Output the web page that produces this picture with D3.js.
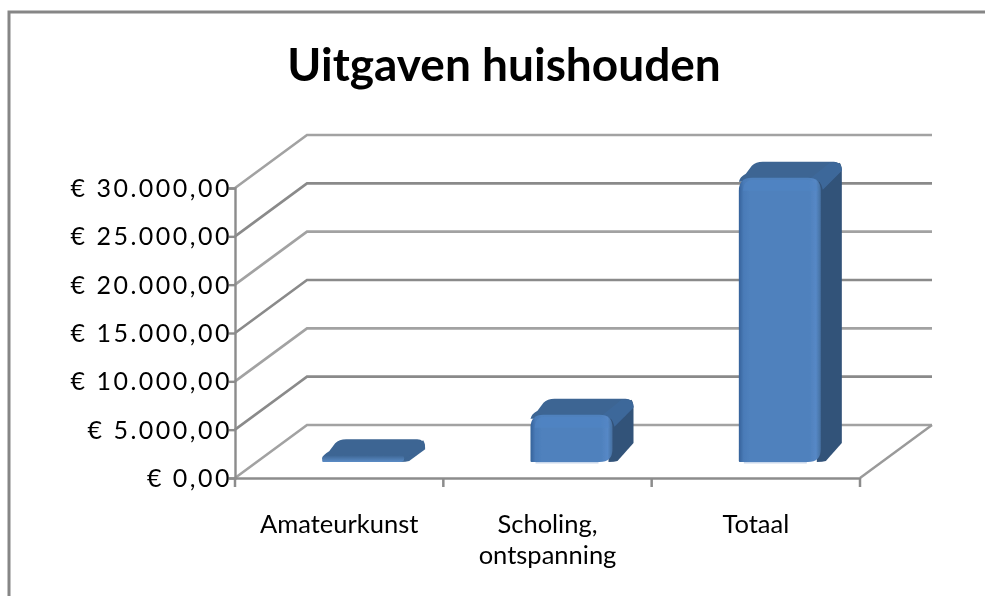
<!DOCTYPE html>
<html><head><meta charset="utf-8">
<script src="https://cdn.jsdelivr.net/npm/d3@7"></script>
<style>html,body{margin:0;padding:0;background:#fff;overflow:hidden}svg{display:block}
text{font-family:Lato,"Open Sans",sans-serif;fill:#000}</style></head>
<body><svg id="c" width="985" height="596"></svg>
<script>
const chartTitle = "Uitgaven huishouden";
const categories = ["Amateurkunst", "Scholing, ontspanning", "Totaal"];
const values = [700, 4900, 29400];
const tickValues = [0, 5000, 10000, 15000, 20000, 25000, 30000];
const tickLabels = ["€ 0,00", "€ 5.000,00", "€ 10.000,00", "€ 15.000,00", "€ 20.000,00", "€ 25.000,00", "€ 30.000,00"];

const svg = d3.select("#c");
const defs = svg.append("defs");
const soft = defs.append("filter").attr("id","soft").attr("filterUnits","userSpaceOnUse")
  .attr("x",0).attr("y",0).attr("width",985).attr("height",596);
soft.append("feGaussianBlur").attr("stdDeviation",0.6);
const fg = defs.append("linearGradient").attr("id","front");
[[0,"#35629a"],[0.06,"#4a7bb8"],[0.14,"#4f81bd"],[0.86,"#4f81bd"],[0.94,"#5688c6"],[1,"#456f9f"]]
  .forEach(s=>fg.append("stop").attr("offset",s[0]).attr("stop-color",s[1]));
const fgs = defs.append("linearGradient").attr("id","thin").attr("x1",0).attr("x2",0).attr("y1",0).attr("y2",1);
[[0,"#3c6593"],[1,"#5b8cc6"]].forEach(s=>fgs.append("stop").attr("offset",s[0]).attr("stop-color",s[1]));

// frame
svg.append("path").attr("d","M9,596V12H985").attr("fill","none").attr("stroke","#868686").attr("stroke-width",3);

const L=235,R=860,B=478,T=188,DX=72,DY=53;
const x = d3.scaleBand().domain(categories).range([L,R]);
const y = d3.scaleLinear().domain([0,30000]).range([B,T]);
const tickLabel = d3.scaleOrdinal().domain(tickValues).range(tickLabels);

const chart = svg.append("g").attr("filter","url(#soft)");

// walls and gridlines
chart.append("g").selectAll("path").data(tickValues).join("path")
  .attr("fill","none").attr("stroke",(d,i)=>i%2?"#8a8a8a":"#a2a2a2").attr("stroke-width",2.6)
  .attr("d",d=>`M${L},${y(d)}L${L+DX},${y(d)-DY}H${R+DX}`);
chart.append("path").attr("fill","none").attr("stroke","#9a9a9a").attr("stroke-width",2.4)
  .attr("d",`M${R},${B}L${R+DX},${B-DY}`);

// axes
const yAxis = d3.axisLeft(y).tickValues(tickValues).tickFormat(d=>tickLabel(d)).tickSize(6).tickPadding(0);
const gy = chart.append("g").attr("transform",`translate(${L},0)`).call(yAxis);
const xAxis = d3.axisBottom(x).tickSize(0).tickFormat("");
const gx = chart.append("g").attr("transform",`translate(0,${B})`).call(xAxis);
[gy,gx].forEach(g=>{g.selectAll("path.domain").attr("stroke","#8c8c8c").attr("stroke-width",2.4);
  g.selectAll("line").attr("stroke","#8c8c8c").attr("stroke-width",2.4);});
gx.selectAll(".tick").remove();
gx.selectAll("line.edge").data(categories.map(c=>x(c)).concat([R])).join("line").attr("class","edge")
  .attr("x1",d=>d).attr("x2",d=>d).attr("y1",0).attr("y2",9).attr("stroke","#8c8c8c").attr("stroke-width",2.5);
gy.selectAll("text").attr("font-size",25).attr("fill","#000").style("font-family","Lato")
  .style("letter-spacing","2.5px").attr("x",-3).attr("dy","0.34em");

// bars
const bw = 82, bdx = 21, bdy = 16, baseY = 462, off = 24, r = 13;
const h = v => (B - y(v));
const bars = chart.append("g").selectAll("g").data(categories.map((c,i)=>({c,v:values[i]}))).join("g");
const left = d => x(d.c)+x.bandwidth()/2+off-bw/2;
const top_ = d => baseY-h(d.v);
const rr = d => Math.min(r,h(d.v)/2);
// side face
bars.append("path").attr("fill",d=>h(d.v)>20?"#325279":"#3c6593").attr("d",d=>{const a=left(d)+bw,t=top_(d);
  return `M${a-4},${t+1}L${a+bdx-2},${t-bdy+1}Q${a+bdx},${t-bdy+4} ${a+bdx},${t-bdy+10}V${Math.max(baseY-bdy-3,t-bdy+10)}L${a+5},${baseY-1}Q${a+2},${baseY} ${a-4},${baseY}Z`;});
// top face
bars.append("path").attr("fill","#3c6593").attr("d",d=>{const a=left(d),t=top_(d);
  return `M${a},${t+4}Q${a+1},${t-1} ${a+7},${t-4}L${a+bdx-8},${t-bdy+4}Q${a+bdx-4},${t-bdy} ${a+bdx+3},${t-bdy}H${a+bw+bdx-8}Q${a+bw+bdx-1},${t-bdy} ${a+bw+bdx},${t-bdy+8}L${a+bw},${t+4}Z`;});
// rounded top right corner of the depth
bars.filter(d=>h(d.v)>20).append("path").attr("fill","#3d689a").attr("d",d=>{const a=left(d)+bw,t=top_(d);
  return `M${a-11},${t+1}L${a+bdx-12},${t-bdy+1}H${a+bdx-7}Q${a+bdx},${t-bdy} ${a+bdx},${t-bdy+9}L${a+2},${t+12}Q${a},${t+1} ${a-11},${t+1}Z`;});
// front face
bars.append("path").attr("fill",d=>h(d.v)>20?"url(#front)":"url(#thin)").attr("d",d=>{const a=left(d),t=top_(d),q=rr(d),w=bw;
  return `M${a},${baseY-1}V${t+q}Q${a},${t} ${a+q},${t}H${a+w-q}Q${a+w},${t} ${a+w},${t+q}V${baseY-q}Q${a+w},${baseY} ${a+w-q},${baseY}H${a+1}Q${a},${baseY} ${a},${baseY-1}Z`;});
// top bevel highlight
bars.filter(d=>h(d.v)>20).append("path").attr("fill","#5286c4").attr("opacity",0.6).attr("d",d=>{const a=left(d),t=top_(d);
  return `M${a+4},${t+13}Q${a+5},${t+2} ${a+14},${t+2}H${a+bw-14}Q${a+bw-4},${t+2} ${a+bw-3},${t+13}Z`;});
// faint light line under the front of the taller bars
bars.filter(d=>h(d.v)>20).append("path").attr("fill","none").attr("stroke","#c9d8ec").attr("stroke-width",1.5)
  .attr("d",d=>`M${left(d)+5},${baseY+0.8}H${left(d)+bw-14}`);

const labels = chart.append("g");
const lines = {"Amateurkunst":["Amateurkunst"],"Scholing, ontspanning":["Scholing,","ontspanning"],"Totaal":["Totaal"]};
labels.selectAll("text").data(categories).join("text")
  .attr("text-anchor","middle").attr("font-size",25.5)
  .attr("transform",d=>`translate(${x(d)+x.bandwidth()/2},533)`)
  .each(function(d){d3.select(this).selectAll("tspan").data(lines[d]).join("tspan")
    .attr("x",0).attr("dy",(t,i)=>i?31:0).text(t=>t);});

chart.append("text").attr("x",504).attr("y",81).attr("text-anchor","middle")
  .attr("font-size",46).attr("font-weight",700).text(chartTitle);
</script></body></html>
